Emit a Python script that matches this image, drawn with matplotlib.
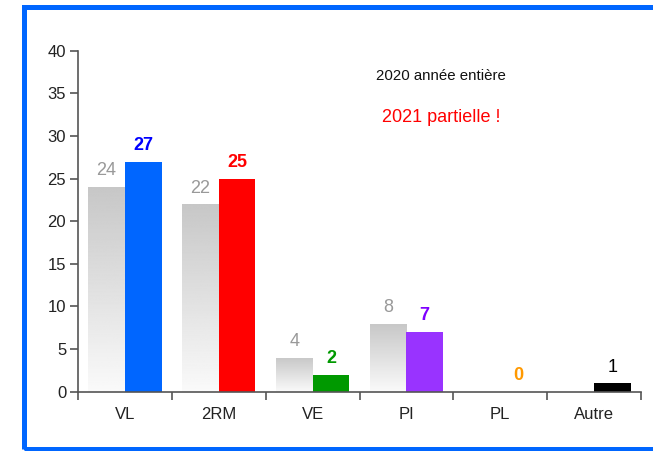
import numpy as np
import matplotlib
matplotlib.use('Agg')
import matplotlib.pyplot as plt
from matplotlib.patches import Rectangle

plt.rcParams['font.family'] = ['Liberation Sans', 'DejaVu Sans']

categories = ['VL', '2RM', 'VE', 'PI', 'PL', 'Autre']
values_2020 = [24, 22, 4, 8, None, None]
values_2021 = [27, 25, 2, 7, 0, 1]
colors_2021 = ['#0066ff', '#ff0000', '#009900', '#9933ff', '#ff9900', '#000000']
label_colors_2021 = ['#0000ff', '#ff0000', '#009900', '#7f00ff', '#ff9900', '#000000']
label_bold_2021 = [True, True, True, True, True, False]

W, H = 653, 451
fig = plt.figure(figsize=(W / 100, H / 100), dpi=100)

# blue frame around the chart (right side runs off the picture)
frame = Rectangle((24 / W, 1 - 448.5 / H), 700 / W, (448.5 - 6.5) / H,
                  transform=fig.transFigure, fill=False,
                  edgecolor='#0066ff', linewidth=3.6, zorder=0)
fig.patches.append(frame)

ax = fig.add_axes([78 / W, 1 - 391.7 / H, (641 - 78) / W, (391.7 - 50.7) / H])

bw = 0.39
x = np.arange(len(categories)) + 0.5
grad = np.linspace(0.98, 0.78, 256).reshape(-1, 1)

for i, v in enumerate(values_2020):
    if v is None:
        continue
    x0 = x[i] - bw
    rect = Rectangle((x0, 0), bw, v, facecolor='none', edgecolor='none')
    ax.add_patch(rect)
    im = ax.imshow(grad, cmap='gray', vmin=0, vmax=1, aspect='auto',
                   extent=(x0, x0 + bw, 0, v), origin='lower', zorder=2)
    im.set_clip_path(rect)
    ax.annotate(str(v), (x[i] - bw / 2, v), xytext=(0, 5.5), textcoords='offset points',
                ha='center', va='bottom', fontsize=13, color='#999999')

ax.bar(x + bw / 2, values_2021, width=bw, color=colors_2021, zorder=2)
for i, v in enumerate(values_2021):
    ax.annotate(str(v), (x[i] + bw / 2, v), xytext=(0, 5.5), textcoords='offset points',
                ha='center', va='bottom', fontsize=13, color=label_colors_2021[i],
                fontweight='bold' if label_bold_2021[i] else 'normal')

ax.set_aspect('auto')
ax.set_xlim(0, 6)
ax.set_ylim(0, 40)

for s in ['top', 'right']:
    ax.spines[s].set_visible(False)
for s in ['left', 'bottom']:
    ax.spines[s].set_color('#555555')
    ax.spines[s].set_linewidth(1.2)

ax.set_yticks(range(0, 41, 5))
ax.set_xticks(range(0, 7))
ax.set_xticklabels([])
ax.set_xticks(x, minor=True)
ax.set_xticklabels(categories, minor=True)
ax.tick_params(axis='x', which='major', length=6, width=1.2, color='#555555')
ax.tick_params(axis='x', which='minor', length=0, pad=11, labelsize=12, labelcolor='#222222')
ax.tick_params(axis='y', length=5.5, width=1.2, color='#555555', labelsize=12,
               labelcolor='#222222', pad=3)

ax.text(0.645, 37.0, '2020 année entière', transform=ax.get_yaxis_transform(),
        ha='center', va='center', fontsize=10.8, color='#111111')
ax.text(0.645, 32.2, '2021 partielle !', transform=ax.get_yaxis_transform(),
        ha='center', va='center', fontsize=13, color='#ff0000')

fig.savefig('out.png', dpi=100)
